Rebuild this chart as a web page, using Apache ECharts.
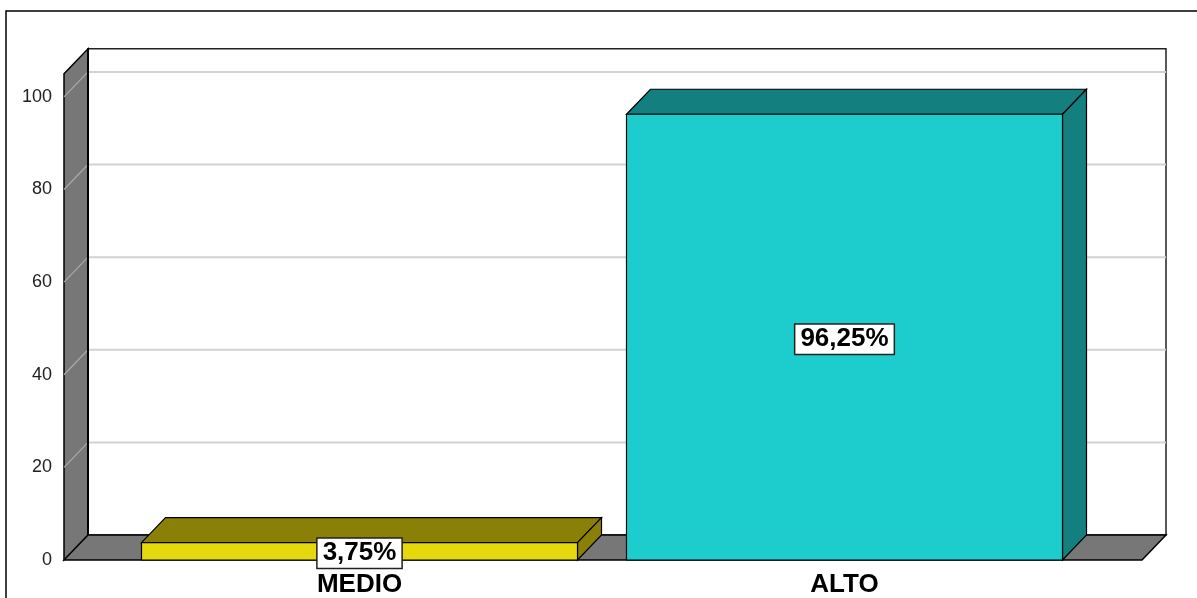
<!DOCTYPE html>
<html><head><meta charset="utf-8">
<script src="https://cdn.jsdelivr.net/npm/echarts@6/dist/echarts.min.js"></script>
<style>html,body{margin:0;padding:0;background:#fff}#c{width:1197px;height:598px}</style>
</head><body><div id="c"></div>
<script>
const categories = ['MEDIO', 'ALTO'];
const percentValues = [3.75, 96.25];
const yTicks = [0, 20, 40, 60, 80, 100];
const frontColors = ['#E5D80D', '#1DCDCD'];
const darkColors = ['#8B8007', '#137F7E'];

const DX = 24, DY = 25;
const FONT = '"Liberation Sans", Arial, sans-serif';
const chart = echarts.init(document.getElementById('c'));

function fmt(v) { return v.toFixed(2).replace('.', ',') + '%'; }

function wallsRender(params, api) {
  const cs = params.coordSys;
  const left = cs.x - 53, right = cs.x + cs.width + 55;
  const y0 = api.coord([0, 0])[1];
  const yTop = cs.y;
  const ch = [];
  ch.push({type: 'polygon', shape: {points: [[left + DX, yTop - DY], [right + DX, yTop - DY], [right + DX, y0 - DY], [left + DX, y0 - DY]]},
    style: {fill: '#fff', stroke: '#222', lineWidth: 1.5}});
  yTicks.forEach(function (t) {
    if (t === 0) return;
    const y = api.coord([0, t])[1];
    ch.push({type: 'line', shape: {x1: left + DX, y1: y - DY, x2: right + DX, y2: y - DY}, style: {stroke: '#d2d2d2', lineWidth: 2}});
  });
  ch.push({type: 'polygon', shape: {points: [[left, yTop], [left + DX, yTop - DY], [left + DX, y0 - DY], [left, y0]]},
    style: {fill: '#777777', stroke: '#000', lineWidth: 1.5}});
  yTicks.forEach(function (t) {
    const y = api.coord([0, t])[1];
    ch.push({type: 'line', shape: {x1: left, y1: y, x2: left + DX, y2: y - DY}, style: {stroke: '#aaaaaa', lineWidth: 1.2}});
  });
  ch.push({type: 'polygon', shape: {points: [[left, y0], [left + DX, y0 - DY], [right + DX, y0 - DY], [right, y0]]},
    style: {fill: '#777777', stroke: '#000', lineWidth: 1.5}});
  ch.push({type: 'line', shape: {x1: left + DX, y1: yTop - DY, x2: left + DX, y2: y0 - DY}, style: {stroke: '#000', lineWidth: 2}});
  return {type: 'group', children: ch};
}

function barRender(params, api) {
  const idx = api.value(0);
  const v = api.value(1);
  const base = api.coord([idx, 0]);
  const top = api.coord([idx, v]);
  const band = api.size([1, 0])[0];
  const w = band * 0.899;
  const x0 = base[0] - w / 2, x1 = base[0] + w / 2;
  const yb = base[1], yt = top[1];
  const fc = frontColors[idx], dc = darkColors[idx];
  return {type: 'group', children: [
    {type: 'polygon', shape: {points: [[x0, yt], [x0 + DX, yt - DY], [x1 + DX, yt - DY], [x1, yt]]}, style: {fill: dc, stroke: '#000', lineWidth: 1.2}},
    {type: 'polygon', shape: {points: [[x1, yt], [x1 + DX, yt - DY], [x1 + DX, yb - DY], [x1, yb]]}, style: {fill: dc, stroke: '#000', lineWidth: 1.2}},
    {type: 'rect', shape: {x: x0, y: yt, width: w, height: yb - yt}, style: {fill: fc, stroke: '#000', lineWidth: 1.2}},
    {type: 'text', style: {text: fmt(v), x: base[0], y: (yb + yt) / 2 + 2, align: 'center', verticalAlign: 'middle',
      font: 'bold 26px ' + FONT, fill: '#000', backgroundColor: '#fff', borderColor: '#222', borderWidth: 1.5, padding: [2, 5, 1, 5]}}
  ]};
}

chart.setOption({
  animation: false,
  backgroundColor: '#fff',
  grid: {left: 117, right: 110, top: 73.75, bottom: 36},
  xAxis: {type: 'category', data: categories, axisLine: {show: false}, axisTick: {show: false},
    axisLabel: {color: '#000', fontWeight: 'bold', fontSize: 26, fontFamily: FONT, margin: 12}},
  yAxis: {type: 'value', min: 0, max: 105, interval: 5, splitLine: {show: false}, axisLine: {show: false}, axisTick: {show: false},
    axisLabel: {color: '#222', fontSize: 18, fontFamily: FONT, margin: 65, padding: [5, 0, 0, 0],
      formatter: function (v) { return yTicks.indexOf(v) >= 0 ? String(v) : ''; }}},
  graphic: [{type: 'rect', shape: {x: 6, y: 11, width: 1230, height: 620}, style: {fill: 'none', stroke: '#000', lineWidth: 1.5}, z: 100}],
  series: [
    {type: 'custom', z: 1, renderItem: wallsRender, data: [[0, 0]], silent: true},
    {type: 'custom', z: 2, renderItem: barRender, data: percentValues.map(function (v, i) { return [i, v]; })}
  ]
});
</script></body></html>
